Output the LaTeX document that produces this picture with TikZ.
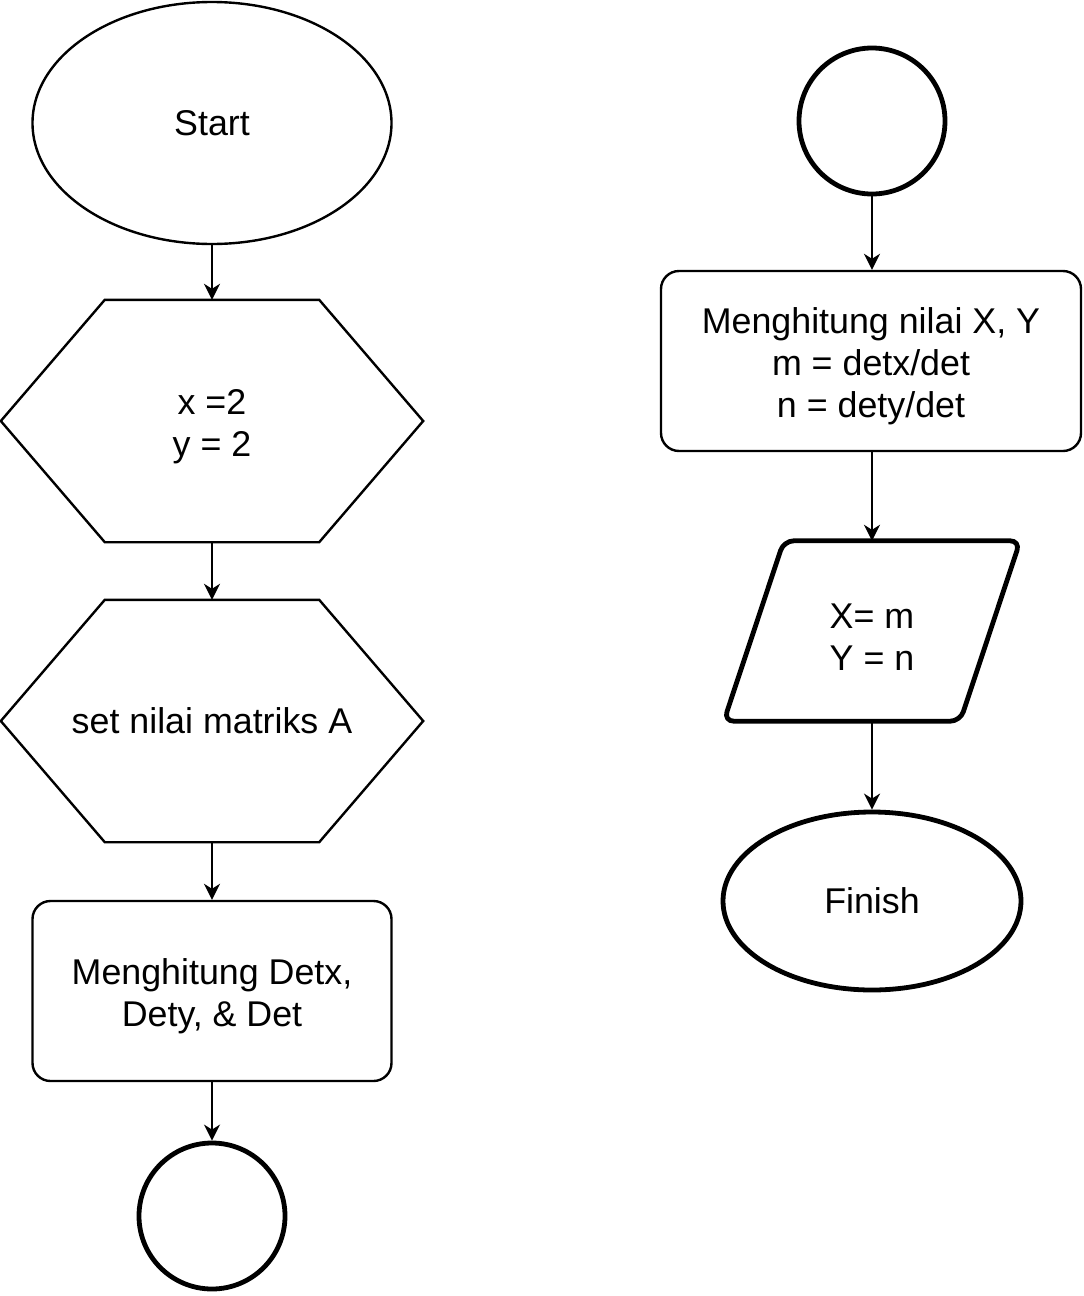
\documentclass[tikz,border=0pt]{standalone}
\usepackage{fontspec}
\setmainfont{Liberation Sans}
\usetikzlibrary{shapes.geometric,arrows.meta,calc}
\newcommand{\firstup}{\rule{0pt}{18.5pt}}
\begin{document}
\begin{tikzpicture}[x=0.5pt,y=-0.5pt,
  base/.style={font=\fontsize{17.9}{21}\selectfont, align=center, inner sep=0pt, line width=1.2pt},
  term/.style={base, ellipse, draw},
  boldline/.style={line width=2.4pt},
  procbox/.style={base, draw, rounded corners=9pt},
  ghost/.style={base},
  hexline/.style={line width=1.2pt, line join=miter},
  conn/.style={-{Stealth[length=8pt,width=8pt,inset=2.5pt]}, line width=1.2pt}]
\useasboundingbox (0,0) rectangle (1083,1296);
% left column
\node[term, minimum width=179.5pt, minimum height=121pt] (start) at (212,123) {Start};
\node[ghost, minimum width=210pt, minimum height=120pt] (h1) at (212,421) {\firstup x =2\\y = 2};
\draw[hexline] (h1.west) -- ($(h1.north west)+(104,0)$) -- ($(h1.north east)+(-104,0)$) -- (h1.east) -- ($(h1.south east)+(-104,0)$) -- ($(h1.south west)+(104,0)$) -- cycle;
\node[ghost, minimum width=210pt, minimum height=120pt] (h2) at (212,721) {set nilai matriks A};
\draw[hexline] (h2.west) -- ($(h2.north west)+(104,0)$) -- ($(h2.north east)+(-104,0)$) -- (h2.east) -- ($(h2.south east)+(-104,0)$) -- ($(h2.south west)+(104,0)$) -- cycle;
\node[procbox, minimum width=179.5pt, minimum height=90pt] (det) at (212,991) {\firstup Menghitung Detx,\\Dety, \& Det};
\node[base, circle, draw, boldline, minimum size=73pt] (c1) at (212,1216) {};
% right column
\node[base, circle, draw, boldline, minimum size=73pt] (c2) at (872,121) {};
\node[procbox, minimum width=210pt, minimum height=90pt] (xy) at (871,361) {\firstup Menghitung nilai X, Y\\m = detx/det\\n = dety/det};
\node[ghost, minimum width=147pt, minimum height=89pt] (out) at (872,631) {\firstup X= m\\Y = n};
\draw[boldline, rounded corners=5pt] ($(out.north west)+(60,0)$) -- (out.north east) -- ($(out.south east)+(-60,0)$) -- (out.south west) -- cycle;
\node[term, boldline, minimum width=149pt, minimum height=89pt] (fin) at (872,901) {Finish};
% connectors
\draw[conn] (start) -- (h1);
\draw[conn] (h1) -- (h2);
\draw[conn] (h2) -- (det);
\draw[conn] (det) -- (c1);
\draw[conn] (c2) -- (xy.north -| c2);
\draw[conn] (xy.south -| c2) -- (out);
\draw[conn] (out) -- (fin);
\end{tikzpicture}
\end{document}
